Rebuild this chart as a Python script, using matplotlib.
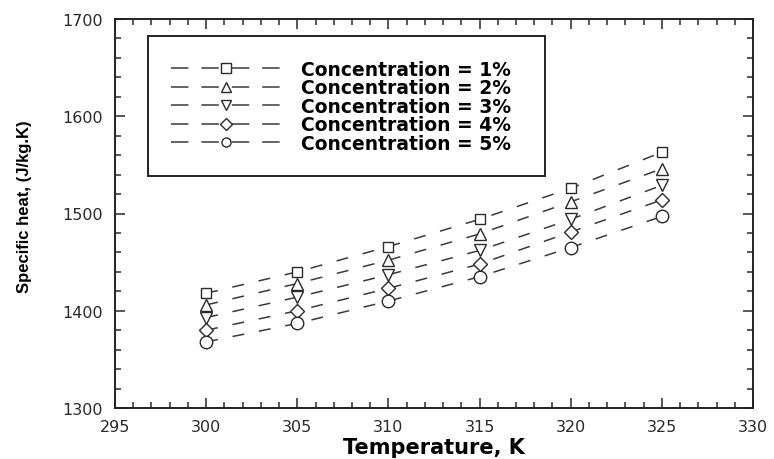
import matplotlib.pyplot as plt
import numpy as np
from matplotlib.ticker import MultipleLocator

plt.rcParams["font.family"] = ["DejaVu Sans"]

temperature = [300, 305, 310, 315, 320, 325]
conc_1 = [1418, 1440, 1466, 1494, 1526, 1563]
conc_2 = [1406, 1428, 1452, 1479, 1512, 1546]
conc_3 = [1393, 1414, 1437, 1462, 1494, 1529]
conc_4 = [1380, 1400, 1423, 1448, 1481, 1514]
conc_5 = [1368, 1387, 1410, 1435, 1465, 1497]
labels = ["Concentration = 1%", "Concentration = 2%", "Concentration = 3%",
          "Concentration = 4%", "Concentration = 5%"]
markers = ["s", "^", "v", "D", "o"]
msizes = [7.5, 8, 8, 7, 9]

fig = plt.figure(figsize=(7.74, 4.6), dpi=100)
ax = fig.add_axes([115 / 774, 1 - 409 / 460, 638 / 774, 389 / 460])

for vals, lab, m, ms in zip([conc_1, conc_2, conc_3, conc_4, conc_5], labels, markers, msizes):
    ax.plot(temperature, vals, color="#3a3a3a", lw=1.1, dashes=(7.8, 9.8),
            marker=m, ms=ms, mfc="white", mec="#2a2a2a", mew=1.0, label=lab)

ax.set_xlim(295, 330)
ax.set_ylim(1300, 1700)
ax.xaxis.set_major_locator(MultipleLocator(5))
ax.xaxis.set_minor_locator(MultipleLocator(1))
ax.yaxis.set_major_locator(MultipleLocator(100))
ax.yaxis.set_minor_locator(MultipleLocator(20))
ax.tick_params(which="both", direction="in", top=True, right=True, width=1.1,
               labelsize=11.5, colors="#2a2a2a")
ax.tick_params(axis="y", pad=9)
ax.tick_params(axis="x", pad=8)
ax.tick_params(which="major", length=7)
ax.tick_params(which="minor", length=4)
for s in ax.spines.values():
    s.set_linewidth(1.4)
    s.set_color("#222222")

ax.set_xlabel("Temperature, K", fontsize=15, fontweight="bold", labelpad=2)
ax.set_ylabel("Specific heat, (J/kg.K)", fontsize=12, fontweight="bold",
              family="Liberation Sans")
ax.yaxis.set_label_coords(-0.13, 0.52)

# legend frame spans about 148..545 px across, 37..175 px down
leg = ax.legend(loc="upper left", bbox_to_anchor=(0.0517, 0.601, 0.622, 0.355),
                mode="expand", prop={"weight": "bold", "size": 13.5},
                handlelength=5.8, handletextpad=1.1, labelspacing=-0.02,
                borderpad=1.25, borderaxespad=0, fancybox=False, framealpha=1,
                edgecolor="#222222")
leg.get_frame().set_linewidth(1.4)
for h in leg.legend_handles:
    h.set_dashes((11.4, 8.5))
    h.set_markersize(6.5)

fig.savefig("out.png", dpi=100)
